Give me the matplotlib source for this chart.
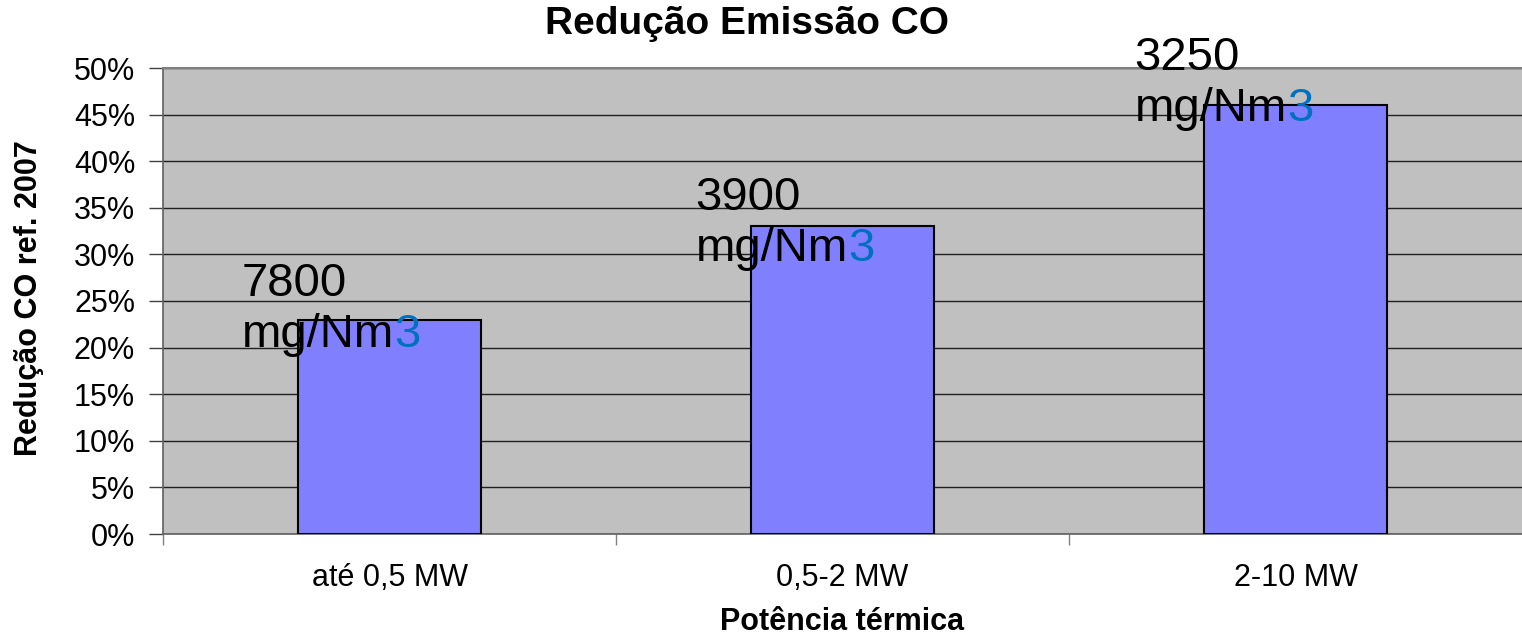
import matplotlib
matplotlib.use("Agg")
import matplotlib.pyplot as plt
from matplotlib.ticker import FixedLocator, PercentFormatter

plt.rcParams['font.family'] = ['Liberation Sans', 'DejaVu Sans']

# data
categorias = ['até 0,5 MW', '0,5-2 MW', '2-10 MW']
reducao = [23, 33, 46]              # % reduction vs 2007
limites = ['7800', '3900', '3250']  # mg/Nm3 values written over the bars

# label offsets from bar top-centre (pixels) - placement only
label_dx = [-148, -147, -161]
label_dy = [24, 16, 35]

fig = plt.figure(figsize=(15.22, 6.37), dpi=100)
ax = fig.add_axes([163 / 1522, 103 / 637, 1 - 163 / 1522, 466 / 637])
ax.set_facecolor('#C0C0C0')

x = list(range(len(categorias)))
ax.bar(x, reducao, width=0.404, color='#8080FF', edgecolor='black', linewidth=1.5, zorder=3)

ax.set_xlim(-0.5, 2.5)
ax.set_ylim(0, 50)
ax.set_yticks(range(0, 51, 5))
ax.yaxis.set_major_formatter(PercentFormatter(decimals=0))
ax.grid(axis='y', color='#202020', linewidth=1.0, zorder=0)
ax.set_axisbelow(True)

ax.set_xticks(x)
ax.set_xticklabels(categorias)
ax.xaxis.set_minor_locator(FixedLocator([-0.5, 0.5, 1.5]))
ax.tick_params(axis='x', which='major', length=0, pad=21, labelsize=22)
ax.tick_params(axis='x', which='minor', length=8, width=1, color='#808080')
ax.tick_params(axis='y', length=10, width=1, color='#404040', pad=10, labelsize=22)

for side in ['left', 'bottom']:
    ax.spines[side].set_color('#606060')
    ax.spines[side].set_linewidth(1.2)
ax.spines['top'].set_color('#808080')
ax.spines['top'].set_linewidth(1.5)
ax.spines['right'].set_visible(False)

for i, (v, lim) in enumerate(zip(reducao, limites)):
    ax.annotate(lim, xy=(i, v), xytext=(label_dx[i], label_dy[i]), textcoords='offset pixels',
                ha='left', va='baseline', fontsize=34, zorder=5)
    t2 = ax.annotate('mg/Nm', xy=(i, v), xytext=(label_dx[i], label_dy[i] - 51),
                     textcoords='offset pixels', ha='left', va='baseline', fontsize=34, zorder=5)
    ax.annotate('3', xy=(1, 0), xycoords=t2, ha='left', va='bottom', fontsize=34,
                color='#0070C0', zorder=5)

fig.text(747 / 1522, 1 - 24 / 637, 'Redução Emissão CO', ha='center', va='center',
         fontsize=28, fontweight='bold')
ax.set_xlabel('Potência térmica', fontsize=22, fontweight='bold', labelpad=10)
fig.text(29 / 1522, 1 - 298 / 637, 'Redução CO ref. 2007', rotation=90, ha='center',
         va='center', fontsize=22, fontweight='bold')

fig.savefig('out.png', dpi=100)
